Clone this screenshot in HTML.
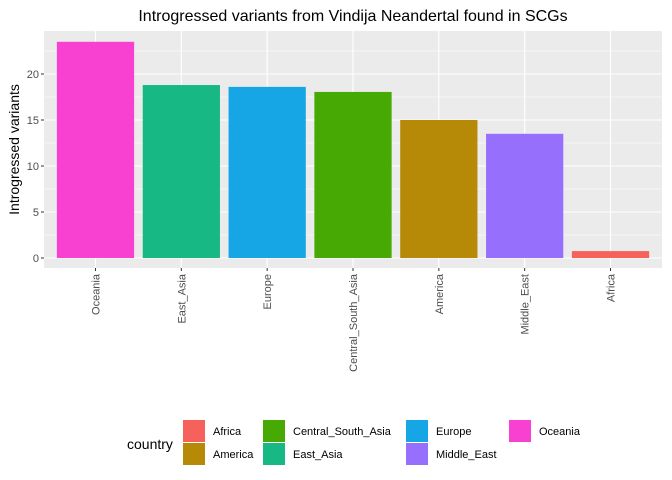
<!DOCTYPE html>
<html><head><meta charset="utf-8"><style>body{margin:0;background:#fff}svg{display:block;font-family:"Liberation Sans",sans-serif}</style></head>
<body>
<svg id="c" width="672" height="480"></svg>
<script>
const categories=["Oceania","East_Asia","Europe","Central_South_Asia","America","Middle_East","Africa"];
const values=[23.5,18.8,18.6,18.05,15.0,13.5,0.75];
const colors=["#F841D0","#18B885","#16A6E6","#47A904","#B68A07","#9670FD","#F7615C"];
const yTicks=[0,5,10,15,20];
const legendItems=["Africa","America","Central_South_Asia","East_Asia","Europe","Middle_East","Oceania"];
const legendColors=["#F7615C","#B68A07","#47A904","#18B885","#16A6E6","#9670FD","#F841D0"];
const NS="http://www.w3.org/2000/svg";
const svg=document.getElementById('c');
function mk(t,a,txt){const e=document.createElementNS(NS,t);for(const k in a)e.setAttribute(k,a[k]);if(txt!=null)e.textContent=txt;svg.appendChild(e);return e;}
const L=44,R=662,T=31,B=268;
const y=v=>258-v*9.2;
const step=(R-L)/7.2;
const x=i=>L+(0.6+i)*step;
let e=mk('rect',{x:L,y:T,width:R-L,height:B-T,fill:'#EBEBEB'});

for(let v=2.5;v<25;v+=5){e=mk('line',{x1:L,x2:R,y1:y(v),y2:y(v),stroke:'#fff','stroke-width':0.5});}
yTicks.forEach(v=>{e=mk('line',{x1:L,x2:R,y1:y(v),y2:y(v),stroke:'#fff','stroke-width':1.1});
e=mk('line',{x1:L-3,x2:L,y1:y(v),y2:y(v),stroke:'#333'});
e=mk('text',{x:L-5,y:y(v)+4,'text-anchor':'end','font-size':11,fill:'#4D4D4D'},v);});
categories.forEach((c,i)=>{e=mk('line',{x1:x(i),x2:x(i),y1:T,y2:B,stroke:'#fff','stroke-width':1.1});});
categories.forEach((c,i)=>{const w=0.9*step;
e=mk('rect',{x:x(i)-w/2,y:y(values[i]),width:w,height:y(0)-y(values[i]),fill:colors[i]});
e=mk('line',{x1:x(i),x2:x(i),y1:B,y2:B+3,stroke:'#333'});
e=mk('text',{x:0,y:0,'text-anchor':'end','font-size':11,fill:'#4D4D4D',transform:`translate(${x(i)+4},${B+6}) rotate(-90)`},c);});
e=mk('text',{x:0,y:0,'text-anchor':'middle','font-size':14,fill:'#000',transform:`translate(19,${(T+B)/2}) rotate(-90)`},'Introgressed variants');
e=mk('text',{x:(L+R)/2,y:21,'text-anchor':'middle','font-size':16,fill:'#000'},'Introgressed variants from Vindija Neandertal found in SCGs');
e=mk('text',{x:127,y:449,'font-size':14,fill:'#000'},'country');
const colX=[183,263,406,509];
legendItems.forEach((n,i)=>{const col=Math.floor(i/2),row=i%2;const kx=colX[col],ky=420+row*23;
e=mk('rect',{x:kx,y:ky,width:22,height:22,fill:legendColors[i]});
e=mk('text',{x:kx+30,y:ky+15,'font-size':11,fill:'#000'},n);});
</script>
</body></html>
